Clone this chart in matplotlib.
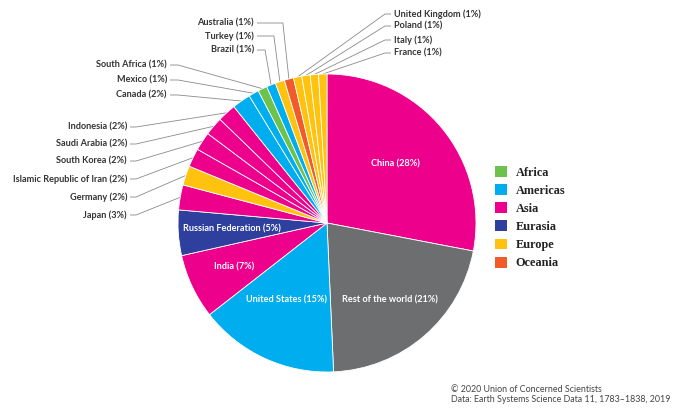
import matplotlib
matplotlib.use("Agg")
import matplotlib.pyplot as plt
from matplotlib.patches import Patch
import numpy as np

# share of cumulative emissions, clockwise from 12 o'clock
countries = ["China", "Rest of the world", "United States", "India", "Russian Federation",
             "Japan", "Germany", "Islamic Republic of Iran", "South Korea", "Saudi Arabia",
             "Indonesia", "Canada", "Mexico", "South Africa", "Brazil", "Turkey", "Australia",
             "United Kingdom", "Poland", "Italy", "France"]
shares = [27.9, 21.2, 15.1, 7.0, 4.9,
          2.7, 2.1, 2.0, 2.0, 2.0,
          2.0, 2.0, 1.1, 1.0, 1.0, 1.0, 1.0,
          0.9, 0.9, 0.9, 0.9]
pct_labels = ["28%", "21%", "15%", "7%", "5%",
              "3%", "2%", "2%", "2%", "2%",
              "2%", "2%", "1%", "1%", "1%", "1%", "1%",
              "1%", "1%", "1%", "1%"]
regions = ["Asia", "Rest", "Americas", "Asia", "Eurasia",
           "Asia", "Europe", "Asia", "Asia", "Asia",
           "Asia", "Americas", "Americas", "Africa", "Americas", "Europe", "Oceania",
           "Europe", "Europe", "Europe", "Europe"]

legend_regions = ["Africa", "Americas", "Asia", "Eurasia", "Europe", "Oceania"]
region_colors = {
    "Africa": "#6cc24a",
    "Americas": "#00aeef",
    "Asia": "#ec008c",
    "Eurasia": "#2e3f9e",
    "Europe": "#ffc20e",
    "Oceania": "#f15a29",
    "Rest": "#6d6e70",
}

W, H = 680, 415
cx, cy, R = 327, H - 223, 149

fig = plt.figure(figsize=(6.8, 4.15), dpi=100)
ax = fig.add_axes([0, 0, 1, 1])

wedges, _ = ax.pie(shares, colors=[region_colors[r] for r in regions],
                   startangle=90, counterclock=False, center=(cx, cy), radius=R,
                   wedgeprops=dict(edgecolor="white", linewidth=0.6))

ax.set_xlim(0, W)
ax.set_ylim(0, H)
ax.set_aspect("equal")
ax.axis("off")

lab_font = dict(family=["Lato", "DejaVu Sans"], weight="bold", fontsize=6.6)

# labels drawn inside the big slices (pixel positions, y from top)
inside_pos = {
    "China": (395, 164),
    "Rest of the world": (390, 300),
    "United States": (287, 300),
    "India": (234, 267),
    "Russian Federation": (232, 229),
}
for name, (x, y) in inside_pos.items():
    i = countries.index(name)
    ax.text(x, H - y, f"{name} ({pct_labels[i]})", color="white",
            ha="center", va="center", **lab_font)

# outside labels: text anchor (px, y from top), side, elbow offset
outside_pos = {
    "Australia": (254, 23, "L", "edge"),
    "Turkey": (254, 36, "L", "edge"),
    "Brazil": (254, 50, "L", "edge"),
    "South Africa": (167, 65, "L", 8),
    "Mexico": (167, 80, "L", 8),
    "Canada": (167, 95, "L", 8),
    "Indonesia": (127, 127, "L", 6),
    "Saudi Arabia": (127, 144, "L", 6),
    "South Korea": (127, 161, "L", 6),
    "Islamic Republic of Iran": (127, 179, "L", 6),
    "Germany": (127, 197, "L", 6),
    "Japan": (127, 215, "L", 6),
    "United Kingdom": (394, 14, "R", 6),
    "Poland": (394, 26, "R", 6),
    "Italy": (394, 40, "R", 6),
    "France": (394, 53, "R", 6),
}
for name, (x, y, side, elbow) in outside_pos.items():
    i = countries.index(name)
    w = wedges[i]
    mid = np.deg2rad((w.theta1 + w.theta2) / 2)
    px, py = cx + R * np.cos(mid), cy + R * np.sin(mid)
    ty = H - y
    text = f"{name} ({pct_labels[i]})"
    if side == "L":
        ax.text(x, ty, text, color="#333333", ha="right", va="center", **lab_font)
        sx = x + 3
        ex = px - 6 if elbow == "edge" else sx + elbow
    else:
        ax.text(x, ty, text, color="#333333", ha="left", va="center", **lab_font)
        sx = x - 3
        ex = sx - elbow
    ax.plot([sx, ex, px], [ty, ty, py], color="#8a8a8a", lw=0.6,
            solid_capstyle="butt", zorder=0.5)

handles = [Patch(facecolor=region_colors[r], edgecolor="none") for r in legend_regions]
leg = ax.legend(handles, legend_regions, loc="upper left", bbox_to_anchor=(490 / W, 1 - 161 / H),
                frameon=False, handlelength=1.0, handleheight=1.0, handletextpad=0.7,
                labelspacing=0.45, borderaxespad=0,
                prop=dict(family="Liberation Serif", weight="bold", size=8.8))
for t in leg.get_texts():
    t.set_color("#222222")

foot_font = dict(family=["Lato", "DejaVu Sans"], fontsize=6.4, color="#444444")
ax.text(451, H - 389, "\u00a9 2020 Union of Concerned Scientists", ha="left", va="center", **foot_font)
ax.text(451, H - 399, "Data: Earth Systems Science Data 11, 1783\u20131838, 2019", ha="left", va="center", **foot_font)

fig.savefig("out.png", dpi=100)
